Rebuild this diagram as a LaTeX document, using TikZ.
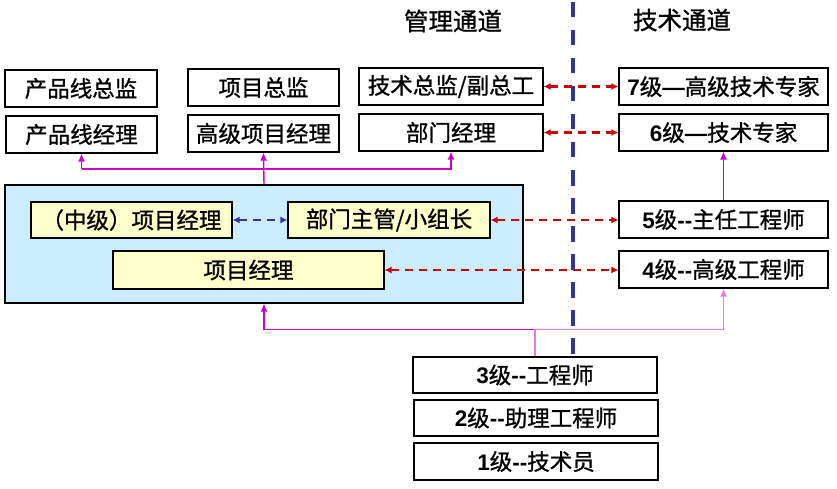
\documentclass[tikz,border=0pt]{standalone}
\usepackage{fontspec}
\setmainfont{Liberation Sans}
\newfontfamily\cjk{Noto Sans CJK SC}[FakeBold=1]
\usetikzlibrary{arrows.meta}
\definecolor{mag}{HTML}{CC00CC}
\definecolor{maglight}{HTML}{E07FE0}
\definecolor{redd}{HTML}{CC0000}
\definecolor{blued}{HTML}{333399}
\definecolor{yellowf}{HTML}{FFFFCC}
\definecolor{bluef}{HTML}{CCECFF}
\newcommand\lnum[1]{{\rmfamily\bfseries #1}}
\begin{document}
\begin{tikzpicture}[x=1pt,y=-1pt,
  box/.style={draw=black, line width=1.2pt, fill=white, inner sep=0pt,
    minimum height=37pt, font=\cjk\fontsize{22.5}{22.5}\selectfont},
  ybox/.style={box, fill=yellowf},
  big/.style={draw=black, line width=1.2pt, fill=bluef, inner sep=0pt},
  hdr/.style={font=\cjk\fontsize{24.5}{24.5}\selectfont},
  magarr/.style={draw=mag, line width=1.4pt, -{Latex[length=8pt,width=7pt]}},
  maglarr/.style={draw=maglight, line width=1.4pt, -{Latex[length=8pt,width=7pt]}},
  redarr/.style={draw=redd, line width=2.4pt, dash pattern=on 8pt off 6pt,
    {Latex[length=7pt,width=7pt]}-{Latex[length=7pt,width=7pt]}},
  bluearr/.style={draw=blued, line width=2.4pt, dash pattern=on 8pt off 6pt,
    {Latex[length=7pt,width=7pt]}-{Latex[length=7pt,width=7pt]}},
  divider/.style={draw=blued, line width=4pt, dash pattern=on 15.5pt off 12.5pt},
]
\useasboundingbox (0,0) rectangle (837,489);

% headers
\node[hdr] (h1) at (453,21) {管理通道};
\node[hdr] (h2) at (682,20) {技术通道};

% divider
\coordinate (dtop) at (573,2);
\coordinate (dbot) at (573,357);
\draw[divider] (dtop) -- (dbot);

% management column
\node[box, minimum width=152pt] (pd) at (81,88.5) {产品线总监};
\node[box, minimum width=151pt] (pm) at (81.5,134.5) {产品线经理};
\node[box, minimum width=151pt] (xz) at (263.5,87.5) {项目总监};
\node[box, minimum width=151pt] (gx) at (263.5,133.5) {高级项目经理};
\node[box, minimum width=184pt] (jz) at (451,86.5) {技术总监/副总工};
\node[box, minimum width=184pt] (bm) at (451,132.5) {部门经理};

% big blue box
\node[big, minimum width=518pt, minimum height=118pt] (bb) at (264,244) {};
\node[ybox, minimum width=201pt, minimum height=36pt] (zj) at (131.5,220) {（中级）项目经理};
\node[ybox, minimum width=202pt, minimum height=36pt] (bz) at (389,220) {部门主管/小组长};
\node[ybox, minimum width=271pt, minimum height=38pt] (xm) at (248.5,270) {项目经理};

% technical column
\node[box, minimum width=209pt] (r7) at (723.5,86.5) {\lnum{7}级\lnum{—}高级技术专家};
\node[box, minimum width=209pt] (r6) at (723.5,132.5) {\lnum{6}级\lnum{—}技术专家};
\node[box, minimum width=209pt] (r5) at (723.5,219.5) {\lnum{5}级\lnum{-{}-}主任工程师};
\node[box, minimum width=209pt] (r4) at (723.5,269.5) {\lnum{4}级\lnum{-{}-}高级工程师};

% bottom column
\node[box, minimum width=244pt, minimum height=36pt] (b3) at (535,375) {\lnum{3}级\lnum{-{}-}工程师};
\node[box, minimum width=244pt, minimum height=36pt] (b2) at (536,418) {\lnum{2}级\lnum{-{}-}助理工程师};
\node[box, minimum width=244pt] (b1) at (536,461.5) {\lnum{1}级\lnum{-{}-}技术员};

% magenta connectors (upward)
\coordinate (hup) at (0,169);
\draw[magarr] (bb.north) -- (gx.south);
\draw[magarr] (pm.south |- hup) -- (pm.south);
\draw[magarr] (pm.south |- hup) -- (bm.south |- hup) -- (bm.south);
\draw[magarr] (r5.north) -- (r6.south);

\coordinate (hlow) at (0,329.5);
\draw[magarr] (b3.north |- hlow) -| (bb.south);
\draw[maglarr] (b3.north) -- (b3.north |- hlow) -| (r4.south);

% dashed double arrows
\draw[redarr] (jz.east) -- (jz.east -| r7.west);
\draw[redarr] (bm.east) -- (bm.east -| r6.west);
\draw[redarr] (bz.east) -- (bz.east -| r5.west);
\draw[redarr] (xm.east) -- (xm.east -| r4.west);
\draw[bluearr] (zj.east) -- (bz.west);
\end{tikzpicture}
\end{document}
